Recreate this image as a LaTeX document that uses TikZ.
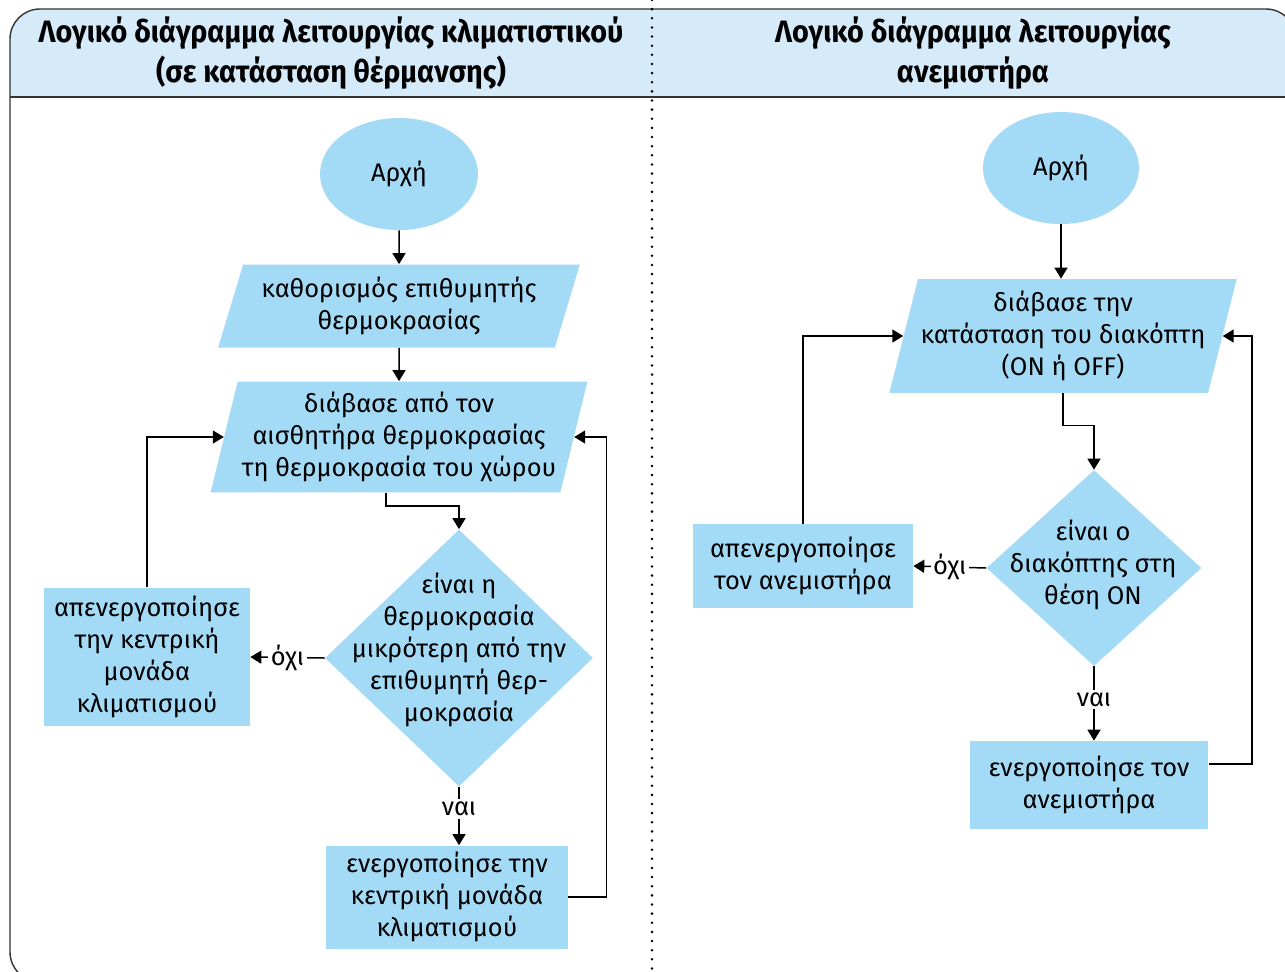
\documentclass[tikz,border=0pt]{standalone}
\usepackage{fontspec}
\setmainfont{Fira Sans}
\newfontfamily\headfont{Fira Sans}[FakeStretch=0.93]
\usepackage{xcolor}
\usetikzlibrary{arrows.meta,shapes.geometric}

\definecolor{boxblue}{HTML}{A3DAF6}
\definecolor{headblue}{HTML}{D5EBFA}
\definecolor{framegray}{HTML}{333333}

\begin{document}
\begin{tikzpicture}[x=0.02cm, y=-0.02cm,
    every node/.style={font=\fontsize{14.5}{18.1}\selectfont},
    headtxt/.style={align=center, font=\headfont\bfseries\fontsize{17.6}{22.7}\selectfont},
    startstop/.style={ellipse, fill=boxblue, minimum width=3.16cm, minimum height=2.24cm},
    io/.style={trapezium, trapezium stretches=true, fill=boxblue, align=center, inner sep=1pt},
    process/.style={rectangle, fill=boxblue, align=center, inner sep=2pt},
    decision/.style={diamond, fill=boxblue, inner sep=0pt},
    flow/.style={-{Triangle[length=0.22cm,width=0.26cm]}, line width=0.85pt},
    lbl/.style={fill=white, inner sep=1.5pt}]
    \clip (0,0) rectangle (1285,971);

    % Frame with header band
    \begin{scope}
        \clip[rounded corners=0.6cm] (10,9) rectangle (1296,982);
        \fill[headblue] (10,9) rectangle (1296,97);
    \end{scope}
    \draw[framegray, line width=0.8pt, rounded corners=0.6cm] (10,9) rectangle (1296,982);
    \draw[framegray, line width=0.8pt] (10,97) -- (1296,97);
    \draw[line width=1.6pt, dash pattern=on 0pt off 5.2pt, line cap=round] (652,0) -- (652,971);

    \node[headtxt] (head1) at (331,53) {Λογικό διάγραμμα λειτουργίας κλιματιστικού\\(σε κατάσταση θέρμανσης)};
    \node[headtxt] (head2) at (973,53) {Λογικό διάγραμμα λειτουργίας\\ανεμιστήρα};

    % Air conditioner (heating)
    \node[startstop] (start1) at (399,174) {Αρχή};
    \node[io, minimum width=7.24cm, minimum height=1.66cm,
          trapezium left angle=70, trapezium right angle=110] (input1) at (399,306)
        {καθορισμός επιθυμητής\\θερμοκρασίας};
    \node[io, minimum width=7.54cm, minimum height=2.22cm,
          trapezium left angle=74, trapezium right angle=106] (input2) at (399,437)
        {διάβασε από τον\\αισθητήρα θερμοκρασίας\\τη θερμοκρασία του χώρου};
    \node[decision, minimum width=5.36cm, minimum height=5.14cm] (ask1) at (459,658) {};
    \node[align=center] (ask1txt) at (459,650)
        {είναι η\\θερμοκρασία\\μικρότερη από την\\επιθυμητή θερ-\\μοκρασία};
    \node[process, minimum width=4.12cm, minimum height=2.78cm] (off1) at (147,657)
        {απενεργοποίησε\\την κεντρική\\μονάδα\\κλιματισμού};
    \node[process, minimum width=4.84cm, minimum height=2.06cm] (on1) at (447,897)
        {ενεργοποίησε την\\κεντρική μονάδα\\κλιματισμού};

    \draw[flow] (start1) -- (input1);
    \draw[flow] (input1) -- (input2);
    \draw[flow] ([xshift=-0.26cm]input2.south) -- ++(0,13) -| (ask1.north);
    \draw[flow] (ask1.west) -- node[lbl] {όχι} (off1.east);
    \draw[flow] (ask1.south) -- node[lbl, pos=0.38] {ναι} (ask1.south |- on1.north);
    \draw[flow] (off1.north) |- (input2.west);
    \draw[flow] (on1.east) -- ++(38,0) |- (input2.east);

    % Fan
    \node[startstop, minimum width=3.12cm] (start2) at (1061,168) {Αρχή};
    \node[io, minimum width=6.96cm, minimum height=2.28cm,
          trapezium left angle=73, trapezium right angle=107] (input3) at (1063,336)
        {διάβασε την\\κατάσταση του διακόπτη\\(ON ή OFF)};
    \node[decision, minimum width=4.3cm, minimum height=3.92cm] (ask2) at (1094,568) {};
    \node[align=center] (ask2txt) at (1093,565)
        {είναι ο\\διακόπτης στη\\θέση ON};
    \node[process, minimum width=4.4cm, minimum height=1.68cm] (off2) at (803,566)
        {απενεργοποίησε\\τον ανεμιστήρα};
    \node[process, minimum width=4.78cm, minimum height=1.76cm] (on2) at (1089,785)
        {ενεργοποίησε τον\\ανεμιστήρα};

    \draw[flow] (start2) -- (start2 |- input3.north);
    \draw[flow] (input3.south) -- ++(0,32) -| (ask2.north);
    \draw[flow] (ask2.west) -- node[lbl] {όχι} (off2.east);
    \draw[flow] (ask2.south) -- node[lbl, pos=0.45] {ναι} (ask2.south |- on2.north);
    \draw[flow] (off2.north) |- (input3.west);
    \draw[flow] ([yshift=0.42cm]on2.east) -- ++(43,0) |- (input3.east);
\end{tikzpicture}
\end{document}
